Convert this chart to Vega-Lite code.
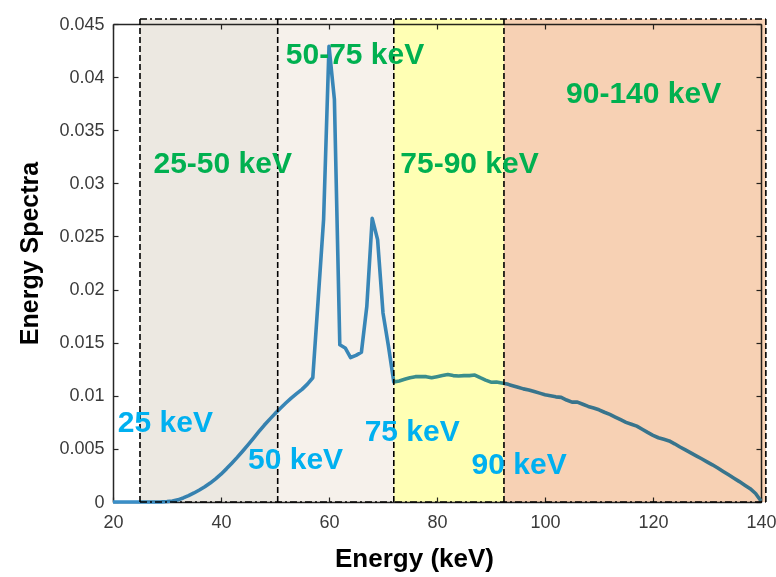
{
  "$schema": "https://vega.github.io/schema/vega-lite/v6.json",
  "width": 648,
  "height": 478,
  "autosize": {"type": "none"},
  "padding": {"left": 113, "top": 24, "right": 15, "bottom": 75},
  "background": "white",
  "config": {
    "view": {"stroke": null},
    "font": "Liberation Sans",
    "axis": {
      "grid": false,
      "domainColor": "#262626",
      "domainWidth": 1.5,
      "tickColor": "#262626",
      "tickWidth": 1.2,
      "tickSize": -5,
      "labelColor": "#3a3a3a",
      "labelFont": "Liberation Sans",
      "labelFontSize": 18,
      "labelFlush": false,
      "titleFont": "Liberation Sans",
      "titleColor": "#000000",
      "titleFontWeight": "bold"
    }
  },
  "resolve": {"axis": {"x": "independent", "y": "independent"}},
  "layer": [
    {
      "data": {"values": [
        {"e": 20, "v": 0}, {"e": 21, "v": 0}, {"e": 22, "v": 0}, {"e": 23, "v": 0}, {"e": 24, "v": 0},
        {"e": 25, "v": 0}, {"e": 26, "v": 0}, {"e": 27, "v": 0}, {"e": 28, "v": 0}, {"e": 29, "v": 0.00001},
        {"e": 30, "v": 0.00004}, {"e": 31, "v": 0.0001}, {"e": 32, "v": 0.0002}, {"e": 33, "v": 0.00038},
        {"e": 34, "v": 0.0006}, {"e": 35, "v": 0.00085}, {"e": 36, "v": 0.00113}, {"e": 37, "v": 0.00143},
        {"e": 38, "v": 0.00178}, {"e": 39, "v": 0.00218}, {"e": 40, "v": 0.00262}, {"e": 41, "v": 0.00312},
        {"e": 42, "v": 0.00365}, {"e": 43, "v": 0.0042}, {"e": 44, "v": 0.00478}, {"e": 45, "v": 0.00538},
        {"e": 46, "v": 0.006}, {"e": 47, "v": 0.00662}, {"e": 48, "v": 0.00722}, {"e": 49, "v": 0.00778},
        {"e": 50, "v": 0.00832}, {"e": 51, "v": 0.00883}, {"e": 52, "v": 0.00932}, {"e": 53, "v": 0.00978},
        {"e": 54, "v": 0.0102}, {"e": 55, "v": 0.0106}, {"e": 56, "v": 0.0111}, {"e": 57, "v": 0.0117},
        {"e": 58, "v": 0.0191}, {"e": 59, "v": 0.0266}, {"e": 60, "v": 0.0429}, {"e": 61, "v": 0.0379},
        {"e": 62, "v": 0.0148}, {"e": 63, "v": 0.0145}, {"e": 64, "v": 0.0136}, {"e": 65, "v": 0.0138},
        {"e": 66, "v": 0.0141}, {"e": 67, "v": 0.0184}, {"e": 68, "v": 0.0267}, {"e": 69, "v": 0.0247},
        {"e": 70, "v": 0.0178}, {"e": 71, "v": 0.0147}, {"e": 72, "v": 0.0113}, {"e": 73, "v": 0.0114},
        {"e": 74, "v": 0.01155}, {"e": 75, "v": 0.0117}, {"e": 76, "v": 0.0118}, {"e": 77, "v": 0.0118},
        {"e": 78, "v": 0.0118}, {"e": 79, "v": 0.0117}, {"e": 80, "v": 0.0118}, {"e": 81, "v": 0.0119},
        {"e": 82, "v": 0.012}, {"e": 83, "v": 0.0119}, {"e": 84, "v": 0.01186}, {"e": 85, "v": 0.0119},
        {"e": 86, "v": 0.0119}, {"e": 87, "v": 0.01195}, {"e": 88, "v": 0.0117}, {"e": 89, "v": 0.01148},
        {"e": 90, "v": 0.01128}, {"e": 91, "v": 0.0113}, {"e": 92, "v": 0.0112}, {"e": 93, "v": 0.0111},
        {"e": 94, "v": 0.01095}, {"e": 95, "v": 0.0108}, {"e": 96, "v": 0.01065}, {"e": 97, "v": 0.01055},
        {"e": 98, "v": 0.0104}, {"e": 99, "v": 0.01025}, {"e": 100, "v": 0.0101}, {"e": 101, "v": 0.01},
        {"e": 102, "v": 0.0099}, {"e": 103, "v": 0.00985}, {"e": 104, "v": 0.0096}, {"e": 105, "v": 0.0094},
        {"e": 106, "v": 0.0094}, {"e": 107, "v": 0.0092}, {"e": 108, "v": 0.009}, {"e": 109, "v": 0.00885},
        {"e": 110, "v": 0.00868}, {"e": 111, "v": 0.00845}, {"e": 112, "v": 0.00825}, {"e": 113, "v": 0.008},
        {"e": 114, "v": 0.00775}, {"e": 115, "v": 0.0075}, {"e": 116, "v": 0.00732}, {"e": 117, "v": 0.00714},
        {"e": 118, "v": 0.00685}, {"e": 119, "v": 0.00655}, {"e": 120, "v": 0.00628}, {"e": 121, "v": 0.00605},
        {"e": 122, "v": 0.0059}, {"e": 123, "v": 0.00575}, {"e": 124, "v": 0.00548}, {"e": 125, "v": 0.00518},
        {"e": 126, "v": 0.0049}, {"e": 127, "v": 0.00462}, {"e": 128, "v": 0.00435}, {"e": 129, "v": 0.00407},
        {"e": 130, "v": 0.00378}, {"e": 131, "v": 0.0035}, {"e": 132, "v": 0.0032}, {"e": 133, "v": 0.00288},
        {"e": 134, "v": 0.00256}, {"e": 135, "v": 0.00224}, {"e": 136, "v": 0.00192}, {"e": 137, "v": 0.00158},
        {"e": 138, "v": 0.00125}, {"e": 139, "v": 0.0008}, {"e": 140, "v": 0.0001}
      ]},
      "mark": {"type": "line", "color": "#3a8ec7", "strokeWidth": 3.6, "strokeJoin": "round"},
      "encoding": {
        "x": {"field": "e", "type": "quantitative",
              "scale": {"domain": [20, 140], "nice": false, "zero": false},
              "axis": {"orient": "bottom", "values": [20, 40, 60, 80, 100, 120, 140], "labelPadding": 16,
                       "title": "Energy (keV)", "titleFontSize": 26, "titlePadding": 14, "titleX": 301}},
        "y": {"field": "v", "type": "quantitative",
              "scale": {"domain": [0, 0.045], "nice": false},
              "axis": {"orient": "left", "values": [0, 0.005, 0.01, 0.015, 0.02, 0.025, 0.03, 0.035, 0.04, 0.045],
                       "format": "~g", "labelPadding": 14,
                       "title": "Energy Spectra", "titleFontSize": 25, "titlePadding": 16, "titleY": 229}}
      }
    },
    {
      "data": {"values": [
        {"band": "25-50", "x0": 25, "x1": 50.5},
        {"band": "50-75", "x0": 50.5, "x1": 72},
        {"band": "75-90", "x0": 72, "x1": 92.4},
        {"band": "90-140", "x0": 92.4, "x1": 140.9}
      ]},
      "mark": {"type": "rect", "blend": "multiply", "fillOpacity": 1, "clip": false},
      "encoding": {
        "x": {"field": "x0", "type": "quantitative",
              "axis": {"orient": "top", "values": [20, 40, 60, 80, 100, 120, 140], "labels": false, "title": null}},
        "x2": {"field": "x1"},
        "y": {"datum": 0,
              "axis": {"orient": "right", "values": [0, 0.005, 0.01, 0.015, 0.02, 0.025, 0.03, 0.035, 0.04, 0.045],
                       "labels": false, "title": null}},
        "y2": {"datum": 0.04547},
        "color": {"field": "band", "type": "nominal", "legend": null,
                  "scale": {"domain": ["25-50", "50-75", "75-90", "90-140"],
                            "range": ["#ece8e1", "#f6f1eb", "#ffffb4", "#f7d1b4"]}}
      }
    },
    {
      "data": {"values": [{"b": 25}, {"b": 50.5}, {"b": 72}, {"b": 92.4}, {"b": 140.9}]},
      "mark": {"type": "rule", "color": "#000000", "strokeWidth": 1.6, "strokeDash": [6, 3], "clip": false},
      "encoding": {
        "x": {"field": "b", "type": "quantitative", "axis": null},
        "y": {"datum": 0, "axis": null},
        "y2": {"datum": 0.04547}
      }
    },
    {
      "data": {"values": [{"h": 0}, {"h": 0.04547}]},
      "mark": {"type": "rule", "color": "#000000", "strokeWidth": 1.6, "strokeDash": [7, 3, 2, 3], "clip": false},
      "encoding": {
        "y": {"field": "h", "type": "quantitative", "axis": null},
        "x": {"datum": 25, "axis": null},
        "x2": {"datum": 140.9}
      }
    },
    {
      "data": {"values": [
        {"x": 27.5, "y": 0.031, "t": "25-50 keV"},
        {"x": 52.0, "y": 0.0412, "t": "50-75 keV"},
        {"x": 73.2, "y": 0.031, "t": "75-90 keV"},
        {"x": 103.9, "y": 0.0376, "t": "90-140 keV"}
      ]},
      "mark": {"type": "text", "align": "left", "baseline": "alphabetic", "fontSize": 30,
               "fontWeight": "bold", "font": "Liberation Sans", "color": "#00b050"},
      "encoding": {
        "x": {"field": "x", "type": "quantitative", "axis": null},
        "y": {"field": "y", "type": "quantitative", "axis": null},
        "text": {"field": "t"}
      }
    },
    {
      "data": {"values": [
        {"x": 20.9, "y": 0.0066, "t": "25 keV"},
        {"x": 45.0, "y": 0.00315, "t": "50 keV"},
        {"x": 66.6, "y": 0.00575, "t": "75 keV"},
        {"x": 86.4, "y": 0.00268, "t": "90 keV"}
      ]},
      "mark": {"type": "text", "align": "left", "baseline": "alphabetic", "fontSize": 30,
               "fontWeight": "bold", "font": "Liberation Sans", "color": "#00b0f0"},
      "encoding": {
        "x": {"field": "x", "type": "quantitative", "axis": null},
        "y": {"field": "y", "type": "quantitative", "axis": null},
        "text": {"field": "t"}
      }
    }
  ]
}
